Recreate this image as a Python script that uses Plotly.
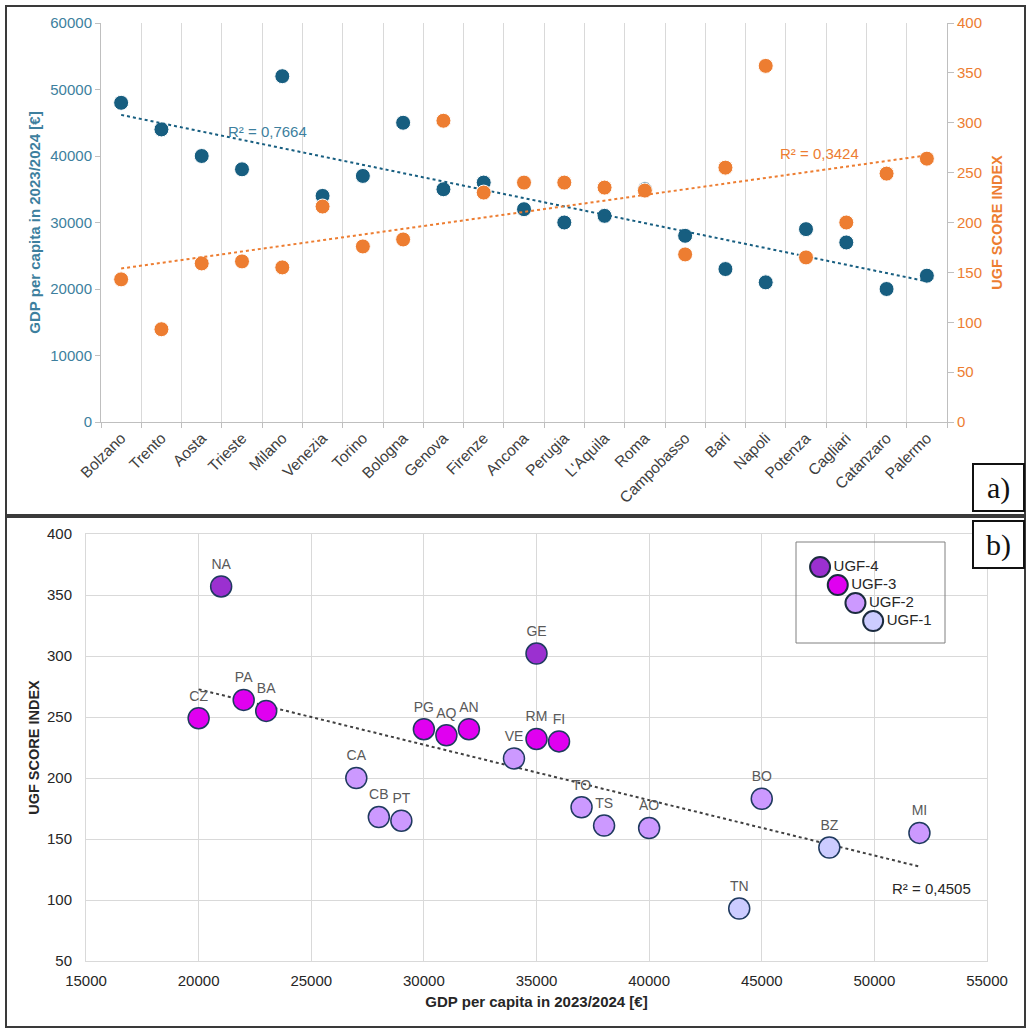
import numpy as np
import plotly.graph_objects as go

# ---------------- data ----------------
cities = ["Bolzano", "Trento", "Aosta", "Trieste", "Milano", "Venezia", "Torino", "Bologna",
          "Genova", "Firenze", "Ancona", "Perugia", "L'Aquila", "Roma", "Campobasso", "Bari",
          "Napoli", "Potenza", "Cagliari", "Catanzaro", "Palermo"]
codes = ["BZ", "TN", "AO", "TS", "MI", "VE", "TO", "BO", "GE", "FI", "AN", "PG", "AQ", "RM",
         "CB", "BA", "NA", "PT", "CA", "CZ", "PA"]
gdp = [48000, 44000, 40000, 38000, 52000, 34000, 37000, 45000, 35000, 36000, 32000, 30000,
       31000, 35000, 28000, 23000, 21000, 29000, 27000, 20000, 22000]
ugf = [143, 93, 159, 161, 155, 216, 176, 183, 302, 230, 240, 240, 235, 232, 168, 255, 357,
       165, 200, 249, 264]
ugf_class = [1, 1, 2, 2, 2, 2, 2, 2, 4, 3, 3, 3, 3, 3, 2, 3, 4, 2, 2, 3, 3]
class_names = ["UGF-4", "UGF-3", "UGF-2", "UGF-1"]
class_ids = [4, 3, 2, 1]
r2_gdp_text = "R² = 0,7664"
r2_ugf_text = "R² = 0,3424"
r2_b_text = "R² = 0,4505"

# ---------------- styling ----------------
W, H = 1031, 1033
TEAL = "#175E80"
TEAL_TXT = "#3D7F9E"
ORANGE = "#ED7D31"
GRID = "#D9D9D9"
AXL = "#BFBFBF"
FONT = "Liberation Sans, Arial, sans-serif"
SERIF = "Liberation Serif, Times New Roman, serif"
class_colors = {4: "#9B30D0", 3: "#E000F0", 2: "#CC99FF", 1: "#CCCCFF"}
OUTLINE = "#1F3A5F"
CLEAR = "rgba(0,0,0,0)"


def px_x(p):
    return p / W


def px_y(p):
    return 1 - p / H


fig = go.Figure()

# ---------------- panel a ----------------
idx = np.arange(1, len(cities) + 1)
c_g = np.polyfit(idx, gdp, 1)
c_u = np.polyfit(idx, ugf, 1)

fig.add_trace(go.Scatter(x=cities, y=gdp, mode="markers", xaxis="x", yaxis="y",
                         marker=dict(size=15, color=TEAL, line=dict(width=1, color="white")),
                         showlegend=False))
fig.add_trace(go.Scatter(x=[cities[0], cities[-1]], y=list(np.polyval(c_g, [idx[0], idx[-1]])),
                         mode="lines", xaxis="x", yaxis="y",
                         line=dict(color=TEAL, width=2, dash="dot"), showlegend=False))
fig.add_trace(go.Scatter(x=cities, y=ugf, mode="markers", xaxis="x", yaxis="y2",
                         marker=dict(size=15, color=ORANGE, line=dict(width=1, color="white")),
                         showlegend=False))
fig.add_trace(go.Scatter(x=[cities[0], cities[-1]], y=list(np.polyval(c_u, [idx[0], idx[-1]])),
                         mode="lines", xaxis="x", yaxis="y2",
                         line=dict(color=ORANGE, width=2, dash="dot"), showlegend=False))

# ---------------- panel b ----------------
gdp_a = np.array(gdp)
ugf_a = np.array(ugf)
c_b = np.polyfit(gdp_a, ugf_a, 1)
xs = [gdp_a.min(), gdp_a.max()]
fig.add_trace(go.Scatter(x=xs, y=list(np.polyval(c_b, xs)), mode="lines", xaxis="x2", yaxis="y3",
                         line=dict(color="#404040", width=2, dash="dot"), showlegend=False))
for cid in class_ids:
    sel = [i for i, c in enumerate(ugf_class) if c == cid]
    fig.add_trace(go.Scatter(
        x=[gdp[i] for i in sel], y=[ugf[i] for i in sel], text=[codes[i] for i in sel],
        mode="markers+text", textposition="top center",
        textfont=dict(size=14, color="#595959", family=FONT),
        xaxis="x2", yaxis="y3",
        marker=dict(size=21, color=class_colors[cid], line=dict(width=1.5, color=OUTLINE)),
        showlegend=False))

# custom staggered legend
for k, (name, cid) in enumerate(zip(class_names, class_ids)):
    fig.add_trace(go.Scatter(
        x=[k], y=[-k], text=[name], mode="markers+text", textposition="middle right",
        textfont=dict(size=15, color="#262626", family=FONT),
        xaxis="x3", yaxis="y4",
        marker=dict(size=20, color=class_colors[cid], line=dict(width=2, color="#1B2B3F")),
        showlegend=False))

# ---------------- layout ----------------
fig.update_layout(
    width=W, height=H, margin=dict(l=0, r=0, t=0, b=0, pad=0, autoexpand=False),
    paper_bgcolor="white", plot_bgcolor="rgba(0,0,0,0)",
    font=dict(family=FONT, size=13, color="#404040"),
    xaxis=dict(domain=[px_x(101), px_x(947)], anchor="y", type="category", automargin=False,
               tickson="boundaries", showgrid=True, gridcolor=GRID, gridwidth=1,
               showline=True, linecolor=AXL, linewidth=1, ticks="outside", ticklen=5,
               tickcolor=AXL, tickangle=-45, tickfont=dict(size=15.5, color="#404040"),
               range=[-0.5, len(cities) - 0.5]),
    yaxis=dict(domain=[px_y(422), px_y(23)], anchor="x", range=[0, 60000], dtick=10000,
               tickformat="d", automargin=False,
               showgrid=False, zeroline=False, showline=True, linecolor=AXL, linewidth=1,
               ticks="outside", ticklen=5, tickcolor=AXL,
               tickfont=dict(size=15, color=TEAL_TXT),
               title=dict(text="<b>GDP per capita in 2023/2024 [€]</b>",
                          font=dict(size=15, color=TEAL_TXT), standoff=6)),
    yaxis2=dict(overlaying="y", side="right", anchor="x", range=[0, 400], dtick=50,
                tickformat="d", automargin=False,
                showgrid=False, zeroline=False, showline=True, linecolor=AXL, linewidth=1,
                ticks="outside", ticklen=6, tickcolor=AXL,
                tickfont=dict(size=15, color=ORANGE),
                title=dict(text="<b>UGF SCORE INDEX</b>",
                           font=dict(size=14.5, color=ORANGE), standoff=10)),
    xaxis2=dict(domain=[px_x(86), px_x(987)], anchor="y3", range=[15000, 55000], dtick=5000,
                tickformat="d", automargin=False,
                showgrid=True, gridcolor=GRID, zeroline=False, showline=True, mirror=True,
                linecolor=GRID, linewidth=1, ticks="outside", ticklen=6, tickcolor=CLEAR,
                tickfont=dict(size=15, color="#262626"),
                title=dict(text="<b>GDP per capita in 2023/2024 [€]</b>",
                           font=dict(size=15, color="#262626"), standoff=8)),
    yaxis3=dict(domain=[px_y(961), px_y(534)], anchor="x2", range=[50, 400], dtick=50,
                tickformat="d", automargin=False,
                showgrid=True, gridcolor=GRID, zeroline=False, showline=True, mirror=True,
                linecolor=GRID, linewidth=1, ticks="outside", ticklen=10, tickcolor=CLEAR,
                tickfont=dict(size=15, color="#262626"),
                title=dict(text="<b>UGF SCORE INDEX</b>",
                           font=dict(size=14.5, color="#262626"), standoff=3)),
    xaxis3=dict(domain=[px_x(796), px_x(945)], anchor="y4", range=[-1.36, 7.06],
                visible=False, fixedrange=True, automargin=False),
    yaxis4=dict(domain=[px_y(643), px_y(542)], anchor="x3", range=[-4.22, 1.39],
                visible=False, fixedrange=True, automargin=False),
)

shapes = [
    # panel frames
    dict(type="rect", xref="paper", yref="paper", x0=px_x(6), x1=px_x(1025), y0=px_y(515), y1=px_y(6),
         line=dict(color="#3A3A3A", width=2)),
    dict(type="rect", xref="paper", yref="paper", x0=px_x(6), x1=px_x(1025), y0=px_y(1027), y1=px_y(517),
         line=dict(color="#3A3A3A", width=2)),
    # a) and b) boxes
    dict(type="rect", xref="paper", yref="paper", x0=px_x(973), x1=px_x(1024), y0=px_y(511), y1=px_y(464),
         line=dict(color="#111111", width=2), fillcolor="white"),
    dict(type="rect", xref="paper", yref="paper", x0=px_x(973), x1=px_x(1024), y0=px_y(568), y1=px_y(521),
         line=dict(color="#111111", width=2), fillcolor="white"),
    # legend box
    dict(type="rect", xref="paper", yref="paper", x0=px_x(796), x1=px_x(945), y0=px_y(643), y1=px_y(542),
         line=dict(color="#808080", width=1), fillcolor="rgba(255,255,255,0)"),
]
fig.update_layout(shapes=shapes)


def note(text, x, y, size, color, family=FONT):
    return dict(text=text, x=px_x(x), y=px_y(y), xref="paper", yref="paper",
                xanchor="center", yanchor="middle", showarrow=False,
                font=dict(size=size, color=color, family=family))


annotations = [
    note(r2_gdp_text, 267, 131, 15, TEAL_TXT),
    note(r2_ugf_text, 819, 153, 15, ORANGE),
    note(r2_b_text, 931, 888, 15, "#262626"),
    note("a)", 998.5, 488, 30, "#111111", SERIF),
    note("b)", 998.5, 545, 30, "#111111", SERIF),
]
fig.update_layout(annotations=annotations)

fig.write_html("out.html",
               post_script="document.body.style.margin='0';document.body.style.padding='0';"
                           "document.body.style.overflow='hidden';")
